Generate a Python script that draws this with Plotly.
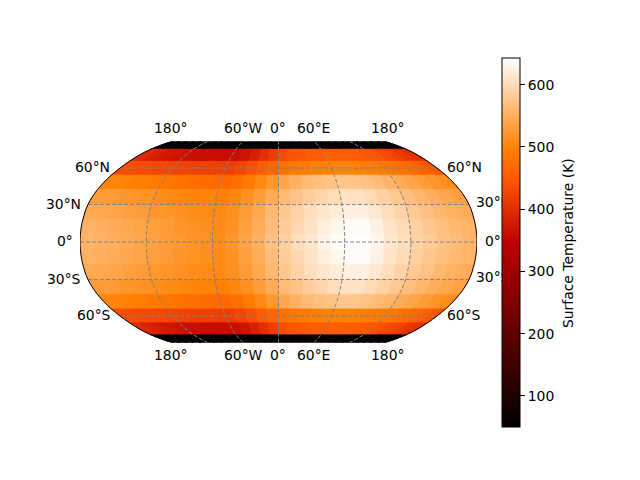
import plotly.graph_objects as go
import numpy as np

# cell centres of the temperature grid (degrees)
lats = [84, 72, 60, 48, 36, 24, 12, 0, -12, -24, -36, -48, -60, -72, -84]
lons = [-174, -162, -150, -138, -126, -114, -102, -90, -78, -66, -54, -42, -30, -18, -6,
        6, 18, 30, 42, 54, 66, 78, 90, 102, 114, 126, 138, 150, 162, 174]

# surface temperature (K), one row per latitude
t_n84 = [55, 55, 55, 54, 54, 53, 53, 52, 52, 52, 52, 52, 53, 54, 55, 56, 57, 58, 59, 60, 60, 60, 60, 59, 58, 58, 57, 56, 56, 55]
t_n72 = [395, 385, 378, 372, 368, 364, 362, 360, 360, 360, 362, 370, 385, 402, 418, 434, 442, 448, 452, 455, 456, 456, 455, 452, 448, 442, 433, 425, 412, 402]
t_n60 = [435, 433, 431, 429, 427, 425, 423, 422, 421, 420, 420, 428, 440, 452, 465, 478, 486, 490, 494, 497, 498, 498, 496, 493, 489, 484, 478, 470, 460, 448]
t_n48 = [501, 498, 495, 491, 487, 483, 479, 475, 472, 470, 468, 475, 488, 505, 522, 540, 552, 562, 568, 572, 576, 576, 572, 565, 556, 546, 537, 527, 518, 510]
t_n36 = [529, 526, 522, 518, 514, 510, 506, 503, 500, 498, 496, 503, 514, 529, 545, 562, 573, 584, 595, 603, 608, 608, 600, 590, 579, 568, 558, 549, 540, 533]
t_n24 = [544, 541, 537, 532, 527, 522, 518, 514, 510, 507, 505, 512, 526, 542, 560, 578, 592, 604, 614, 621, 626, 626, 616, 604, 592, 581, 570, 560, 552, 547]
t_n12 = [553, 550, 546, 541, 536, 531, 526, 521, 516, 512, 508, 516, 531, 547, 566, 583, 598, 609, 623, 632, 639, 639, 627, 612, 600, 588, 578, 568, 560, 555]
t_eq = [556, 553, 549, 544, 539, 534, 529, 524, 519, 514, 510, 520, 536, 552, 572, 588, 604, 614, 630, 638, 642, 642, 630, 615, 604, 592, 583, 572, 565, 556]
t_s12 = [553, 550, 546, 541, 536, 531, 526, 521, 516, 512, 508, 516, 531, 547, 566, 583, 598, 609, 623, 632, 639, 639, 627, 612, 600, 588, 578, 568, 560, 555]
t_s24 = [544, 541, 537, 532, 527, 522, 518, 514, 510, 507, 505, 512, 526, 542, 560, 578, 592, 604, 614, 621, 626, 626, 616, 604, 592, 581, 570, 560, 552, 547]
t_s36 = [529, 526, 522, 518, 514, 510, 506, 503, 500, 498, 496, 503, 514, 529, 545, 562, 573, 584, 595, 603, 608, 608, 600, 590, 579, 568, 558, 549, 540, 533]
t_s48 = [501, 498, 495, 491, 487, 483, 479, 475, 472, 470, 468, 475, 488, 505, 522, 540, 552, 562, 568, 572, 576, 576, 572, 565, 556, 546, 537, 527, 518, 510]
t_s60 = [435, 433, 431, 429, 427, 425, 423, 422, 421, 420, 420, 428, 440, 452, 465, 478, 486, 490, 494, 497, 498, 498, 496, 493, 489, 484, 478, 470, 460, 448]
t_s72 = [395, 385, 378, 372, 368, 364, 362, 360, 360, 360, 362, 370, 385, 402, 418, 434, 442, 448, 452, 455, 456, 456, 455, 452, 448, 442, 433, 425, 412, 402]
t_s84 = [55, 55, 55, 54, 54, 53, 53, 52, 52, 52, 52, 52, 53, 54, 55, 56, 57, 58, 59, 60, 60, 60, 60, 59, 58, 58, 57, 56, 56, 55]
temps = [t_n84, t_n72, t_n60, t_n48, t_n36, t_n24, t_n12, t_eq, t_s12, t_s24, t_s36, t_s48, t_s60, t_s72, t_s84]

t_min = 50
t_max = 643
cbar_ticks = [100, 200, 300, 400, 500, 600]
grid_lons = [-120, -60, 0, 60, 120]
grid_lats = [-60, -30, 0, 30, 60]

# tick labels, with their pixel position in the 640x480 page
lon_labels = ['180°', '60°W', '0°', '60°E', '180°']
lon_label_x = [170, 243, 278, 313, 387]
lat_labels = ['60°N', '30°N', '0°', '30°S', '60°S']
lat_label_y = [167, 204, 241, 279, 315]
lat_left_x = [112, 83, 75, 83, 113]
lat_right_x = [445, 474, 483, 474, 445]

# the page body has an 8px margin around the figure
PAGE_M = 8
W, H = 640 - PAGE_M, 480 - PAGE_M
half_cell = 6


def px_x(px):
    return (px - PAGE_M) / W


def px_y(py):
    return 1 - (py - PAGE_M) / H


# matplotlib gist_heat
heat_stops = [0, 0.5, 2 / 3, 0.75, 1]
heat_r = [0, 191, 255, 255, 255]
heat_g = [0, 0, 85, 128, 255]
heat_b = [0, 0, 0, 0, 255]
gist_heat = [[s, f'rgb({r},{g},{b})'] for s, r, g, b in zip(heat_stops, heat_r, heat_g, heat_b)]


def heat_colour(value):
    s = (value - t_min) / (t_max - t_min)
    return 'rgb(%d,%d,%d)' % (np.interp(s, heat_stops, heat_r), np.interp(s, heat_stops, heat_g),
                              np.interp(s, heat_stops, heat_b))


def cell_ring(lon, lat):
    # clockwise ring, with extra points so the edges follow the parallels
    w = max(lon - half_cell, -179.99)
    e = min(lon + half_cell, 179.99)
    s = max(lat - half_cell, -89.99)
    n = min(lat + half_cell, 89.99)
    top = [[float(x), n] for x in np.linspace(w, e, 13)]
    bottom = [[float(x), s] for x in np.linspace(e, w, 13)]
    return top + bottom + [top[0]]


features, ids, z = [], [], []
for i, lat in enumerate(lats):
    for j, lon in enumerate(lons):
        cid = f'{lat}_{lon}'
        features.append(dict(type='Feature', id=cid,
                             geometry=dict(type='Polygon', coordinates=[cell_ring(lon, lat)])))
        ids.append(cid)
        z.append(temps[i][j])

fig = go.Figure()

# gridlines have to be a trace, a choropleth hides the geo graticule.
# This trace must stay first: geo only looks at the first trace to decide if
# it has to download its world topojson, and there is no network here
grid_x, grid_y = [], []
for g in grid_lons:
    ys = np.linspace(-89.99, 89.99, 61)
    grid_x += [g] * len(ys) + [None]
    grid_y += [float(v) for v in ys] + [None]
for g in grid_lats:
    xs = np.linspace(-179.99, 179.99, 121)
    grid_x += [float(v) for v in xs] + [None]
    grid_y += [g] * len(xs) + [None]
fig.add_trace(go.Scattergeo(lon=grid_x, lat=grid_y, mode='lines', hoverinfo='skip', showlegend=False,
                            line=dict(color='gray', width=1, dash='4px,2px')))

# cell borders take the cell colour, otherwise white seams show between cells
fig.add_trace(go.Choropleth(
    geojson=dict(type='FeatureCollection', features=features),
    locations=ids,
    z=z,
    zmin=t_min,
    zmax=t_max,
    colorscale=gist_heat,
    marker=dict(line=dict(width=0.8, color=[heat_colour(v) for v in z])),
    hoverinfo='skip',
    colorbar=dict(
        x=px_x(502), xanchor='left', xpad=0,
        y=px_y(58), yanchor='top', ypad=0,
        len=369 / H, lenmode='fraction',
        thickness=18, thicknessmode='pixels',
        outlinecolor='black', outlinewidth=1,
        ticks='outside', ticklen=5, tickwidth=1, tickcolor='black',
        tickvals=cbar_ticks,
        tickfont=dict(family='DejaVu Sans', size=13.9, color='black'),
    ),
))

# map outline
edge_y = [float(v) for v in np.linspace(-89.99, 89.99, 61)]
fig.add_trace(go.Scattergeo(lon=[-179.99] * 61 + [None] + [179.99] * 61,
                            lat=edge_y + [None] + edge_y,
                            mode='lines', hoverinfo='skip', showlegend=False,
                            line=dict(color='black', width=1)))

font = dict(family='DejaVu Sans', size=13.9, color='black')

# the 30° labels on the right run under the colourbar. Annotations sit above it,
# a text trace on a hidden page-sized axis sits below it
under_text, under_x, under_y = [], [], []
for text, py, right in zip(lat_labels, lat_label_y, lat_right_x):
    if text in ('30°N', '30°S'):
        under_text.append(text)
        under_x.append(right + 2)
        under_y.append(py)
fig.add_trace(go.Scatter(x=under_x, y=under_y, text=under_text, mode='text', textposition='middle right',
                         textfont=font, cliponaxis=False, hoverinfo='skip', showlegend=False))

# tick labels
annotations = []
for text, px in zip(lon_labels, lon_label_x):
    for py in (128, 355):
        annotations.append(dict(text=text, x=px_x(px), y=px_y(py), xref='paper', yref='paper',
                                xanchor='center', yanchor='middle', showarrow=False, font=font))
for text, py, left, right in zip(lat_labels, lat_label_y, lat_left_x, lat_right_x):
    annotations.append(dict(text=text, x=px_x(left), y=px_y(py), xref='paper', yref='paper',
                            xanchor='right', yanchor='middle', showarrow=False, font=font))
    if text not in ('30°N', '30°S'):
        annotations.append(dict(text=text, x=px_x(right), y=px_y(py), xref='paper', yref='paper',
                                xanchor='left', yanchor='middle', showarrow=False, font=font))

# colourbar title, plotly leaves no way to move its own one closer
annotations.append(dict(text='Surface Temperature (K)', x=px_x(568), y=px_y(243), xref='paper', yref='paper',
                        xanchor='center', yanchor='middle', textangle=-90, showarrow=False, font=font))

fig.update_layout(
    width=W, height=H,
    margin=dict(l=0, r=0, t=0, b=0),
    paper_bgcolor='white',
    plot_bgcolor='rgba(0,0,0,0)',
    showlegend=False,
    annotations=annotations,
    xaxis=dict(visible=False, range=[PAGE_M, 640], domain=[0, 1]),
    yaxis=dict(visible=False, range=[480, PAGE_M], domain=[0, 1]),
    geo=dict(
        domain=dict(x=[px_x(80), px_x(477)], y=[px_y(343), px_y(141)]),
        projection=dict(type='robinson'),
        showland=False, showocean=False, showlakes=False, showrivers=False,
        showcountries=False, showcoastlines=False, showsubunits=False,
        showframe=False,
        bgcolor='rgba(0,0,0,0)',
    ),
)

fig.write_html("out.html")
